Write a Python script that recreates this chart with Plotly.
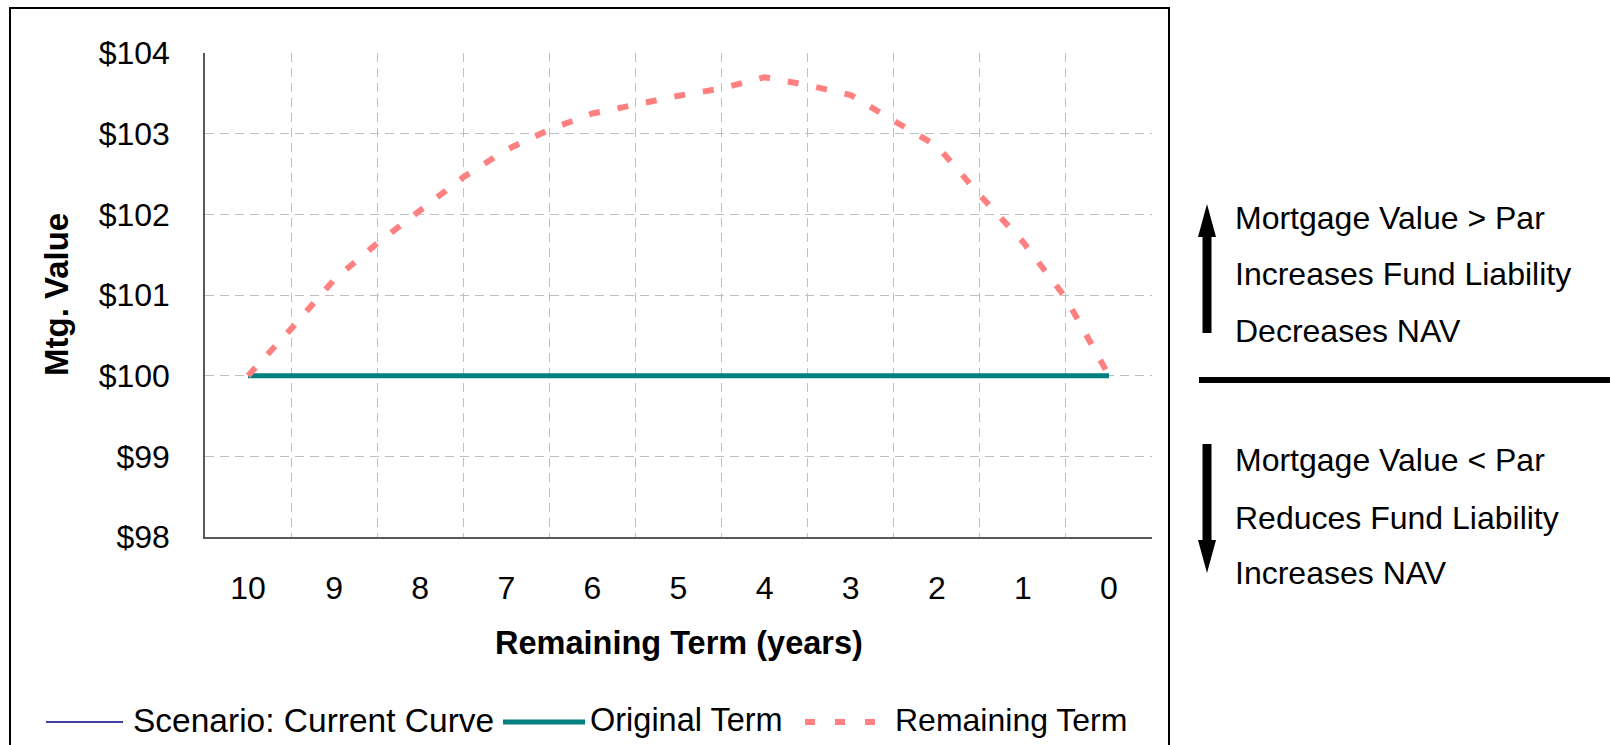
import plotly.graph_objects as go

# ---------------- data ----------------
term_labels = ["10", "9", "8", "7", "6", "5", "4", "3", "2", "1", "0"]
term_years = [10, 9, 8, 7, 6, 5, 4, 3, 2, 1, 0]
scenario_current = [100.0, 100.0, 100.0, 100.0, 100.0, 100.0, 100.0, 100.0, 100.0, 100.0, 100.0]
original_term = [100.0, 100.0, 100.0, 100.0, 100.0, 100.0, 100.0, 100.0, 100.0, 100.0, 100.0]
remaining_years = [10, 9.5, 9, 8.5, 8, 7.5, 7, 6.5, 6, 5.5, 5, 4.5, 4, 3.5, 3, 2.5, 2, 1.5, 1, 0.5, 0]
remaining_term = [100.00, 100.58, 101.19, 101.64, 102.05, 102.46, 102.80, 103.05, 103.25, 103.36,
                  103.47, 103.56, 103.70, 103.60, 103.48, 103.16, 102.85, 102.24, 101.66, 100.96, 100.00]
y_ticks = [98, 99, 100, 101, 102, 103, 104]
y_tick_labels = ["$98", "$99", "$100", "$101", "$102", "$103", "$104"]

series_names = ["Scenario: Current Curve", "Original Term", "Remaining Term"]
panel_up = ["Mortgage Value > Par", "Increases Fund Liability", "Decreases NAV"]
panel_down = ["Mortgage Value < Par", "Reduces Fund Liability", "Increases NAV"]

# ---------------- layout geometry (pixels) ----------------
W, H = 1610, 745
PL, PR, PT, PB = 205, 1152, 53, 537
FONT = "Liberation Sans, Arial, sans-serif"
NAVY, TEAL, PINK = "#000080", "#008080", "#FF8080"


def px(x):
    return (x - PL) / (PR - PL)


def py(y):
    return (PB - y) / (PB - PT)


fig = go.Figure()
fig.add_trace(go.Scatter(x=term_years, y=scenario_current, mode="lines", name=series_names[0],
                         line=dict(color=NAVY, width=1.5), showlegend=False))
fig.add_trace(go.Scatter(x=term_years, y=original_term, mode="lines", name=series_names[1],
                         line=dict(color=TEAL, width=5), showlegend=False))
fig.add_trace(go.Scatter(x=remaining_years, y=remaining_term, mode="lines", name=series_names[2],
                         line=dict(color=PINK, width=6, dash="11px,18px"), showlegend=False))

shapes = []
annotations = []

# outer chart border
shapes.append(dict(type="rect", xref="paper", yref="paper",
                   x0=px(10), x1=px(1169), y0=py(770), y1=py(8),
                   line=dict(color="black", width=2), layer="below"))

# custom legend
LEG_Y = 722
shapes.append(dict(type="line", xref="paper", yref="paper", x0=px(46), x1=px(123),
                   y0=py(LEG_Y), y1=py(LEG_Y), line=dict(color=NAVY, width=1.5)))
shapes.append(dict(type="line", xref="paper", yref="paper", x0=px(503), x1=px(585),
                   y0=py(LEG_Y), y1=py(LEG_Y), line=dict(color=TEAL, width=5)))
shapes.append(dict(type="line", xref="paper", yref="paper", x0=px(805), x1=px(875),
                   y0=py(LEG_Y), y1=py(LEG_Y), line=dict(color=PINK, width=6, dash="10px,20px")))
for name, x0, fs in zip(series_names, [131, 588, 893], [33.5, 32.5, 32]):
    annotations.append(dict(text=name, xref="paper", yref="paper", x=px(x0), y=py(LEG_Y - 2),
                            xanchor="left", yanchor="middle", showarrow=False,
                            font=dict(family=FONT, size=fs, color="black")))

# axis titles
annotations.append(dict(text="<b>Remaining Term (years)</b>", xref="paper", yref="paper",
                        x=0.5, y=py(643), xanchor="center", yanchor="middle", showarrow=False,
                        font=dict(family=FONT, size=32.5, color="black")))
annotations.append(dict(text="<b>Mtg. Value</b>", xref="paper", yref="paper",
                        x=px(56), y=0.5, xanchor="center", yanchor="middle", showarrow=False,
                        textangle=-90, font=dict(family=FONT, size=33, color="black")))

# right panel
AX = 1207
shapes.append(dict(type="line", xref="paper", yref="paper", x0=px(AX), x1=px(AX),
                   y0=py(333), y1=py(234), line=dict(color="black", width=9)))
shapes.append(dict(type="path", xref="paper", yref="paper",
                   path=f"M {px(AX-9)} {py(237)} L {px(AX+9)} {py(237)} L {px(AX)} {py(204)} Z",
                   fillcolor="black", line=dict(color="black", width=0)))
shapes.append(dict(type="line", xref="paper", yref="paper", x0=px(AX), x1=px(AX),
                   y0=py(444), y1=py(542), line=dict(color="black", width=9)))
shapes.append(dict(type="path", xref="paper", yref="paper",
                   path=f"M {px(AX-9)} {py(540)} L {px(AX+9)} {py(540)} L {px(AX)} {py(573)} Z",
                   fillcolor="black", line=dict(color="black", width=0)))
shapes.append(dict(type="line", xref="paper", yref="paper", x0=px(1199), x1=px(1620),
                   y0=py(380), y1=py(380), line=dict(color="black", width=6)))
for txt, yc in zip(panel_up + panel_down, [218, 274, 331, 460, 518, 573]):
    annotations.append(dict(text=txt, xref="paper", yref="paper", x=px(1233), y=py(yc),
                            xanchor="left", yanchor="middle", showarrow=False,
                            font=dict(family=FONT, size=32, color="black")))

fig.update_layout(
    width=W, height=H,
    margin=dict(l=PL, r=W - PR, t=PT, b=H - PB, pad=0),
    paper_bgcolor="white", plot_bgcolor="white",
    font=dict(family=FONT, size=32, color="black"),
    showlegend=False,
    shapes=shapes, annotations=annotations,
)
fig.update_xaxes(
    range=[10.5, -0.5], tickmode="array", tickvals=term_years, ticktext=term_labels,
    showgrid=False, zeroline=False, showline=True, linecolor="#595959", linewidth=1.5,
    ticks="", ticklabelstandoff=22, tickfont=dict(family=FONT, size=32, color="black"),
    minor=dict(tick0=0.5, dtick=1, showgrid=True, gridcolor="#C0C0C0", gridwidth=1,
               griddash="9px,6px", ticks=""),
)
fig.update_yaxes(
    range=[98, 104], tickmode="array", tickvals=y_ticks, ticktext=y_tick_labels,
    showgrid=True, gridcolor="#C0C0C0", gridwidth=1, griddash="9px,6px",
    zeroline=False, showline=True, linecolor="#595959", linewidth=1.5,
    ticks="", ticklabelstandoff=27, tickfont=dict(family=FONT, size=32, color="black"),
)

fig.write_html("out.html")
